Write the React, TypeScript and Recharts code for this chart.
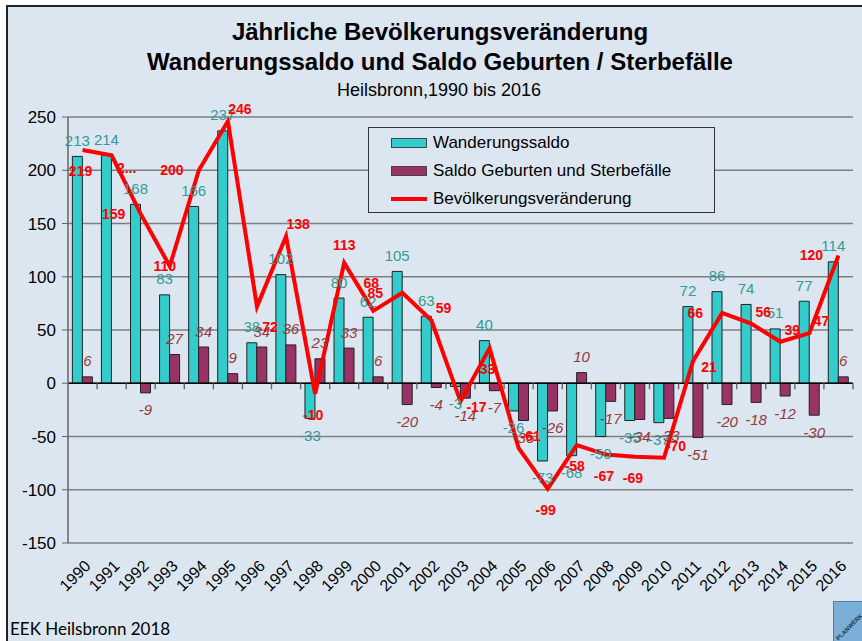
import React from "react";
import {
  ComposedChart,
  Bar,
  Line,
  XAxis,
  YAxis,
  CartesianGrid,
  ReferenceLine,
  LabelList,
} from "recharts";

const years = [
  "1990", "1991", "1992", "1993", "1994", "1995", "1996", "1997", "1998", "1999",
  "2000", "2001", "2002", "2003", "2004", "2005", "2006", "2007", "2008", "2009",
  "2010", "2011", "2012", "2013", "2014", "2015", "2016",
];
const wanderungssaldo = [
  213, 214, 168, 83, 166, 237, 38, 102, -33, 80,
  62, 105, 63, -3, 40, -26, -73, -68, -50, -35,
  -37, 72, 86, 74, 51, 77, 114,
];
const saldoGeburten = [
  6, 0, -9, 27, 34, 9, 34, 36, 23, 33,
  6, -20, -4, -14, -7, -35, -26, 10, -17, -34,
  -33, -51, -20, -18, -12, -30, 6,
];
const bevoelkerung = [
  219, 214, 159, 110, 200, 246, 72, 138, -10, 113,
  68, 85, 59, -17, 33, -61, -99, -58, -67, -69,
  -70, 21, 66, 56, 39, 47, 120,
];
// label text shown in the original (one label is truncated there)
const bevoelkerungLabels = bevoelkerung.map((v, i) => (i === 1 ? "2..." : String(v)));
// label placement relative to the line point
const lineLabelPlacement = [
  "b", "br2", "l", "c", "l", "ar", "br", "ar", "b", "a",
  "a2", "l", "ar", "r", "b", "ar", "b", "b", "b", "b",
  "ar", "r", "l", "ar", "ar", "ar", "l",
];
const yTicks = [-150, -100, -50, 0, 50, 100, 150, 200, 250];

const rows = years.map((y, i) => ({
  year: y,
  wanderung: wanderungssaldo[i],
  geburten: saldoGeburten[i],
  bev: bevoelkerung[i],
}));

const FONT = "'Liberation Sans', Arial, sans-serif";
const CYAN = "#33cccc";
const PURPLE = "#993366";
const RED = "#ff0000";

const offsets: Record<string, [number, number]> = {
  a: [0, -18],
  a2: [-2, -28],
  b: [-2, 21],
  br: [13, 20],
  br2: [15, 13],
  l: [-27, 0],
  r: [16, 6],
  ar: [12, -12],
  c: [-5, 0],
};

const makeBarLabel = (color: string, italic: boolean) => (props: any) => {
  const { x, y, width, height, value } = props;
  if (value === undefined || value === null) return null;
  const top = Math.min(y, y + height);
  const bottom = Math.max(y, y + height);
  const cx = x + width / 2;
  const cy = value >= 0 ? top - 16 : bottom + 17;
  return (
    <text
      x={cx}
      y={cy}
      textAnchor="middle"
      dominantBaseline="central"
      fill={color}
      fontSize={15}
      fontStyle={italic ? "italic" : "normal"}
      fontFamily={FONT}
    >
      {value}
    </text>
  );
};

const LineLabel = (props: any) => {
  const { x, y, index } = props;
  const p = offsets[lineLabelPlacement[index]] || [0, -18];
  return (
    <text
      x={x + p[0]}
      y={y + p[1]}
      textAnchor="middle"
      dominantBaseline="central"
      fill={RED}
      fontSize={14}
      fontWeight="bold"
      fontFamily={FONT}
    >
      {bevoelkerungLabels[index]}
    </text>
  );
};

const XTick = (props: any) => {
  const { x, y, payload } = props;
  const ax = x + 9;
  const ay = y + 16;
  return (
    <text
      x={ax}
      y={ay}
      transform={`rotate(-45, ${ax}, ${ay})`}
      textAnchor="end"
      fontSize={16}
      fill="#000"
      fontFamily={FONT}
    >
      {payload.value}
    </text>
  );
};

// zero line of the chart with the category tick marks of the original category axis
const ZeroAxis = (props: any) => {
  const { x1, y1, x2, y2 } = props;
  const n = years.length;
  const step = (x2 - x1) / n;
  const marks = [];
  for (let i = 1; i <= n; i++) {
    const tx = x1 + i * step;
    marks.push(<line key={i} x1={tx} y1={y1} x2={tx} y2={y1 + 6} stroke="#666" strokeWidth={1.4} />);
  }
  return (
    <g>
      <line x1={x1} y1={y1} x2={x2} y2={y2} stroke="#000" strokeWidth={1.3} />
      {marks}
    </g>
  );
};

const LegendBox = () => {
  const item = (swatch: React.ReactNode, text: string) => (
    <div style={{ display: "flex", alignItems: "center", height: 28 }}>
      <div style={{ width: 36, display: "flex", justifyContent: "center", marginRight: 6 }}>{swatch}</div>
      <span>{text}</span>
    </div>
  );
  return (
    <div
      style={{
        position: "absolute",
        left: 368,
        top: 127,
        width: 347,
        height: 86,
        boxSizing: "border-box",
        border: "1.5px solid #333",
        background: "#dce6f1",
        fontFamily: FONT,
        fontSize: 17,
        color: "#000",
        padding: "1px 0 0 22px",
        textAlign: "left",
      }}
    >
      {item(<div style={{ width: 34, height: 8, background: CYAN, border: "1px solid #444" }} />, "Wanderungssaldo")}
      {item(<div style={{ width: 34, height: 8, background: PURPLE, border: "1px solid #444" }} />, "Saldo Geburten und Sterbefälle")}
      {item(<div style={{ width: 36, height: 4, background: RED }} />, "Bevölkerungsveränderung")}
    </div>
  );
};

export default function App() {
  return (
    <div
      style={{
        position: "absolute",
        left: 0,
        top: 0,
        width: 862,
        height: 641,
        background: "#fff",
        overflow: "hidden",
      }}
    >
      <div
        style={{
          position: "absolute",
          left: 6,
          top: 5,
          width: 900,
          height: 700,
          background: "#dce6f1",
          borderLeft: "2px solid #222",
          borderTop: "2px solid #222",
        }}
      />
      <div style={{ position: "absolute", left: 0, top: 0 }}>
        <ComposedChart
          width={862}
          height={641}
          data={rows}
          margin={{ top: 117, right: 9, left: 0, bottom: 48 }}
          barGap={0}
          barCategoryGap="15%"
        >
          <CartesianGrid horizontal vertical={false} stroke="#7f7f7f" strokeWidth={1.3} />
          <XAxis
            dataKey="year"
            interval={0}
            height={50}
            axisLine={false}
            tickLine={false}
            tick={<XTick />}
          />
          <YAxis
            width={68}
            domain={[-150, 250]}
            ticks={yTicks}
            interval={0}
            allowDataOverflow
            tick={{ fontSize: 17, fill: "#000", fontFamily: FONT }}
            tickSize={6}
            tickMargin={6}
            axisLine={{ stroke: "#666", strokeWidth: 1.5 }}
            tickLine={{ stroke: "#666" }}
          />
          <Bar dataKey="wanderung" fill={CYAN} stroke="#222" strokeWidth={1} isAnimationActive={false}>
            <LabelList dataKey="wanderung" content={makeBarLabel("#339999", false)} />
          </Bar>
          <Bar dataKey="geburten" fill={PURPLE} stroke="#222" strokeWidth={1} isAnimationActive={false}>
            <LabelList dataKey="geburten" content={makeBarLabel("#943a3a", true)} />
          </Bar>
          <ReferenceLine y={0} stroke="#000" strokeWidth={1.3} shape={<ZeroAxis />} />
          <Line
            type="linear"
            dataKey="bev"
            stroke={RED}
            strokeWidth={4}
            dot={false}
            activeDot={false}
            isAnimationActive={false}
          >
            <LabelList dataKey="bev" content={<LineLabel />} />
          </Line>
        </ComposedChart>
      </div>
      <LegendBox />
      <div
        style={{
          position: "absolute",
          left: 0,
          width: 880,
          top: 17,
          textAlign: "center",
          fontFamily: FONT,
          fontWeight: "bold",
          fontSize: 24,
          lineHeight: "30px",
          color: "#000",
        }}
      >
        <div>Jährliche Bevölkerungsveränderung</div>
        <div>Wanderungssaldo und Saldo Geburten / Sterbefälle</div>
      </div>
      <div
        style={{
          position: "absolute",
          left: 0,
          width: 878,
          top: 78,
          textAlign: "center",
          fontFamily: FONT,
          fontSize: 18,
          lineHeight: "24px",
          color: "#000",
        }}
      >
        Heilsbronn,1990 bis 2016
      </div>
      <div
        style={{
          position: "absolute",
          left: 10,
          top: 618,
          fontFamily: "Lato, 'Open Sans', sans-serif",
          fontSize: 17,
          color: "#000",
        }}
      >
        EEK Heilsbronn 2018
      </div>
      <div
        style={{
          position: "absolute",
          left: 833,
          top: 601,
          width: 40,
          height: 50,
          background: "#7aaed6",
          border: "1px solid #4a7fb0",
          overflow: "hidden",
        }}
      >
        <div
          style={{
            position: "absolute",
            left: -2,
            top: 22,
            transform: "rotate(-45deg)",
            fontSize: 6,
            fontWeight: "bold",
            fontFamily: FONT,
            color: "#1a3550",
          }}
        >
          PLANWERK
        </div>
      </div>
    </div>
  );
}
